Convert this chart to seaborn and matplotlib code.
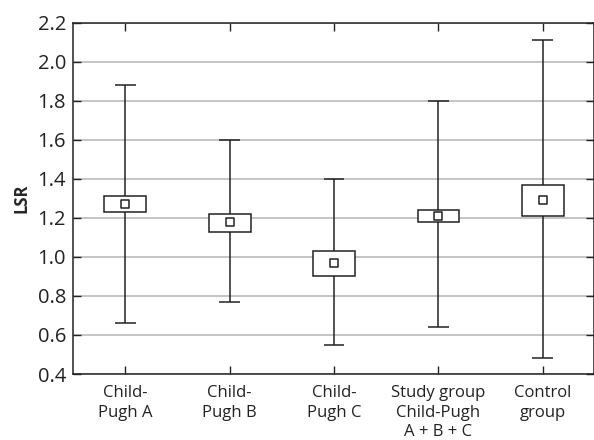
import pandas as pd
import matplotlib
matplotlib.use("Agg")
import matplotlib.pyplot as plt
import seaborn as sns

# data
groups = ["Child-\nPugh A", "Child-\nPugh B", "Child-\nPugh C",
          "Study group\nChild-Pugh\nA + B + C", "Control\ngroup"]
means = [1.27, 1.18, 0.97, 1.21, 1.29]
box_low = [1.23, 1.13, 0.90, 1.18, 1.21]
box_high = [1.31, 1.22, 1.03, 1.24, 1.37]
whisk_low = [0.66, 0.77, 0.55, 0.64, 0.48]
whisk_high = [1.88, 1.60, 1.40, 1.80, 2.11]

df = pd.DataFrame({"group": groups, "pos": range(len(groups)), "mean": means,
                   "lo": box_low, "hi": box_high, "wlo": whisk_low, "whi": whisk_high})

sns.set_theme(style="ticks")
plt.rcParams["font.family"] = ["Open Sans", "DejaVu Sans"]

fig = plt.figure(figsize=(5.94, 4.4), dpi=100)
ax = fig.add_axes([0.123, 0.15, 0.877, 0.798])

ink = "#222222"
ax.set_axisbelow(True)
ax.yaxis.grid(True, color="#b4b4b4", lw=1.1)

# whiskers and caps
ax.vlines(df["pos"], df["wlo"], df["whi"], color=ink, lw=1.1, zorder=2)
ax.hlines(df["wlo"], df["pos"] - 0.1, df["pos"] + 0.1, color=ink, lw=1.1, zorder=2)
ax.hlines(df["whi"], df["pos"] - 0.1, df["pos"] + 0.1, color=ink, lw=1.1, zorder=2)

# boxes
ax.bar(df["pos"], df["hi"] - df["lo"], bottom=df["lo"], width=0.4,
       color="white", edgecolor=ink, lw=1.1, zorder=3)

# means
sns.scatterplot(data=df, x="pos", y="mean", marker="s", s=30, color="white",
                edgecolor=ink, linewidth=1.1, zorder=4, ax=ax, legend=False)

ax.set_xlim(-0.5, 4.49)
ax.set_ylim(0.4, 2.2)
ax.set_yticks([0.4, 0.6, 0.8, 1.0, 1.2, 1.4, 1.6, 1.8, 2.0, 2.2])
ax.set_yticklabels([f"{v:.1f}" for v in ax.get_yticks()], fontsize=14.5)
ax.set_xticks(df["pos"])
ax.set_xticklabels(groups, fontsize=12, linespacing=1.3)
ax.tick_params(axis="both", direction="in", length=6, width=1, colors=ink,
               top=True, right=True, pad=5)
ax.tick_params(axis="x", pad=8)
ax.set_xlabel("")
ax.set_ylabel("LSR", fontsize=12, fontweight="bold", labelpad=5)
for s in ax.spines.values():
    s.set_color(ink)
    s.set_linewidth(1.1)

fig.savefig("out.png", dpi=100)
